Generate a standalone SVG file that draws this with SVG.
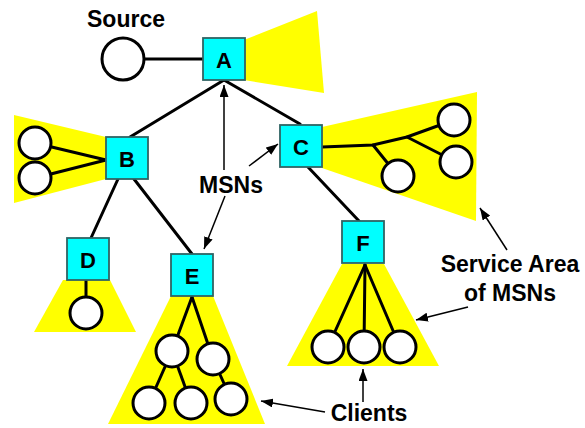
<svg xmlns="http://www.w3.org/2000/svg" width="585" height="428" viewBox="0 0 585 428">
  <style>
    .area { fill: #ffff00; stroke: none; }
    .link { stroke: #000; stroke-width: 3; fill: none; stroke-linecap: round; }
    .ptr { stroke: #000; stroke-width: 1.5; fill: none; marker-end: url(#head); }
    .msn { fill: #00ffff; stroke: #2f6464; stroke-width: 1.8; }
    .client { fill: #fff; stroke: #000; stroke-width: 3; }
    .lbl { font-family: "Liberation Sans", Arial, sans-serif; font-weight: bold; font-size: 23px; fill: #000; }
    .id { font-family: "Liberation Sans", Arial, sans-serif; font-weight: bold; font-size: 22px; fill: #000; text-anchor: middle; }
  </style>
  <defs>
    <marker id="head" viewBox="0 0 12 9" refX="12" refY="4.5" markerWidth="12" markerHeight="9" markerUnits="userSpaceOnUse" orient="auto">
      <path d="M0,0 L12,4.5 L0,9 Z" fill="#000"/>
    </marker>
  </defs>

  <!-- service areas of the MSNs -->
  <g id="areas">
    <polygon class="area" points="244,40 317,11 324,93 244,80"/>
    <polygon class="area" points="14,115 106,137 106,179 14,203"/>
    <polygon class="area" points="322,127 477,92 476,221 322,168"/>
    <polygon class="area" points="63,280 110,280 136,332 34,332"/>
    <polygon class="area" points="171,296 213,296 265,424 108,424"/>
    <polygon class="area" points="342,264 384,264 439,366 287,366"/>
  </g>

  <!-- connectors: tree links and label pointers -->
  <g id="connectors">
    <line class="link" x1="145" y1="59" x2="203" y2="59"/>
    <line class="link" x1="224" y1="80" x2="130" y2="137"/>
    <line class="link" x1="224" y1="80" x2="300" y2="124"/>
    <line class="link" x1="118" y1="179" x2="91" y2="238"/>
    <line class="link" x1="134" y1="179" x2="192" y2="254"/>
    <line class="link" x1="308" y1="167" x2="359" y2="221"/>
    <!-- B clients -->
    <line class="link" x1="35" y1="143" x2="106" y2="160"/>
    <line class="link" x1="35" y1="178" x2="106" y2="160"/>
    <!-- C clients -->
    <polyline class="link" points="322,147 373,145 407,137 454,120"/>
    <line class="link" x1="373" y1="145" x2="398" y2="176"/>
    <line class="link" x1="407" y1="137" x2="456" y2="162"/>
    <!-- D client -->
    <line class="link" x1="86" y1="280" x2="86" y2="313"/>
    <!-- E clients -->
    <line class="link" x1="192" y1="297" x2="172" y2="351"/>
    <line class="link" x1="192" y1="297" x2="213" y2="359"/>
    <line class="link" x1="172" y1="351" x2="149" y2="403"/>
    <line class="link" x1="172" y1="351" x2="191" y2="403"/>
    <line class="link" x1="213" y1="359" x2="231" y2="399"/>
    <!-- F clients -->
    <line class="link" x1="365" y1="265" x2="328" y2="347"/>
    <line class="link" x1="365" y1="265" x2="364" y2="347"/>
    <line class="link" x1="365" y1="265" x2="400" y2="347"/>
    <!-- label pointers -->
    <line class="ptr" x1="224" y1="170" x2="224" y2="85"/>
    <line class="ptr" x1="249" y1="166" x2="278" y2="144"/>
    <line class="ptr" x1="225" y1="196" x2="204" y2="249"/>
    <line class="ptr" x1="507" y1="250" x2="480" y2="208"/>
    <line class="ptr" x1="468" y1="307" x2="416" y2="320"/>
    <line class="ptr" x1="363" y1="402" x2="363" y2="369"/>
    <line class="ptr" x1="325" y1="412" x2="261" y2="401"/>
  </g>

  <g id="source">
    <circle class="client" cx="123" cy="59" r="21"/>
  </g>

  <g id="msn-A">
    <rect class="msn" x="203" y="38" width="42" height="42"/>
    <text class="id" x="224" y="68">A</text>
  </g>
  <g id="msn-B">
    <rect class="msn" x="106" y="137" width="42" height="42"/>
    <text class="id" x="127" y="167">B</text>
  </g>
  <g id="msn-C">
    <rect class="msn" x="280" y="125" width="42" height="42"/>
    <text class="id" x="301" y="155">C</text>
  </g>
  <g id="msn-D">
    <rect class="msn" x="67" y="238" width="42" height="42"/>
    <text class="id" x="88" y="268">D</text>
  </g>
  <g id="msn-E">
    <rect class="msn" x="171" y="254" width="42" height="42"/>
    <text class="id" x="192" y="284">E</text>
  </g>
  <g id="msn-F">
    <rect class="msn" x="342" y="221" width="42" height="42"/>
    <text class="id" x="363" y="251">F</text>
  </g>

  <g id="clients-B">
    <circle class="client" cx="35" cy="143" r="16"/>
    <circle class="client" cx="35" cy="178" r="16"/>
  </g>
  <g id="clients-C">
    <circle class="client" cx="454" cy="120" r="16"/>
    <circle class="client" cx="456" cy="162" r="16"/>
    <circle class="client" cx="398" cy="176" r="16"/>
  </g>
  <g id="clients-D">
    <circle class="client" cx="86" cy="313" r="16"/>
  </g>
  <g id="clients-E">
    <circle class="client" cx="172" cy="351" r="16"/>
    <circle class="client" cx="213" cy="359" r="16"/>
    <circle class="client" cx="149" cy="403" r="16"/>
    <circle class="client" cx="191" cy="403" r="16"/>
    <circle class="client" cx="231" cy="399" r="16"/>
  </g>
  <g id="clients-F">
    <circle class="client" cx="328" cy="347" r="16"/>
    <circle class="client" cx="364" cy="347" r="16"/>
    <circle class="client" cx="400" cy="347" r="16"/>
  </g>

  <g id="labels">
    <text class="lbl" x="126" y="27" text-anchor="middle">Source</text>
    <text class="lbl" x="231" y="193" text-anchor="middle">MSNs</text>
    <text class="lbl" x="510" y="272" text-anchor="middle">Service Area</text>
    <text class="lbl" x="510" y="301" text-anchor="middle">of MSNs</text>
    <text class="lbl" x="369" y="421" text-anchor="middle">Clients</text>
  </g>
</svg>
